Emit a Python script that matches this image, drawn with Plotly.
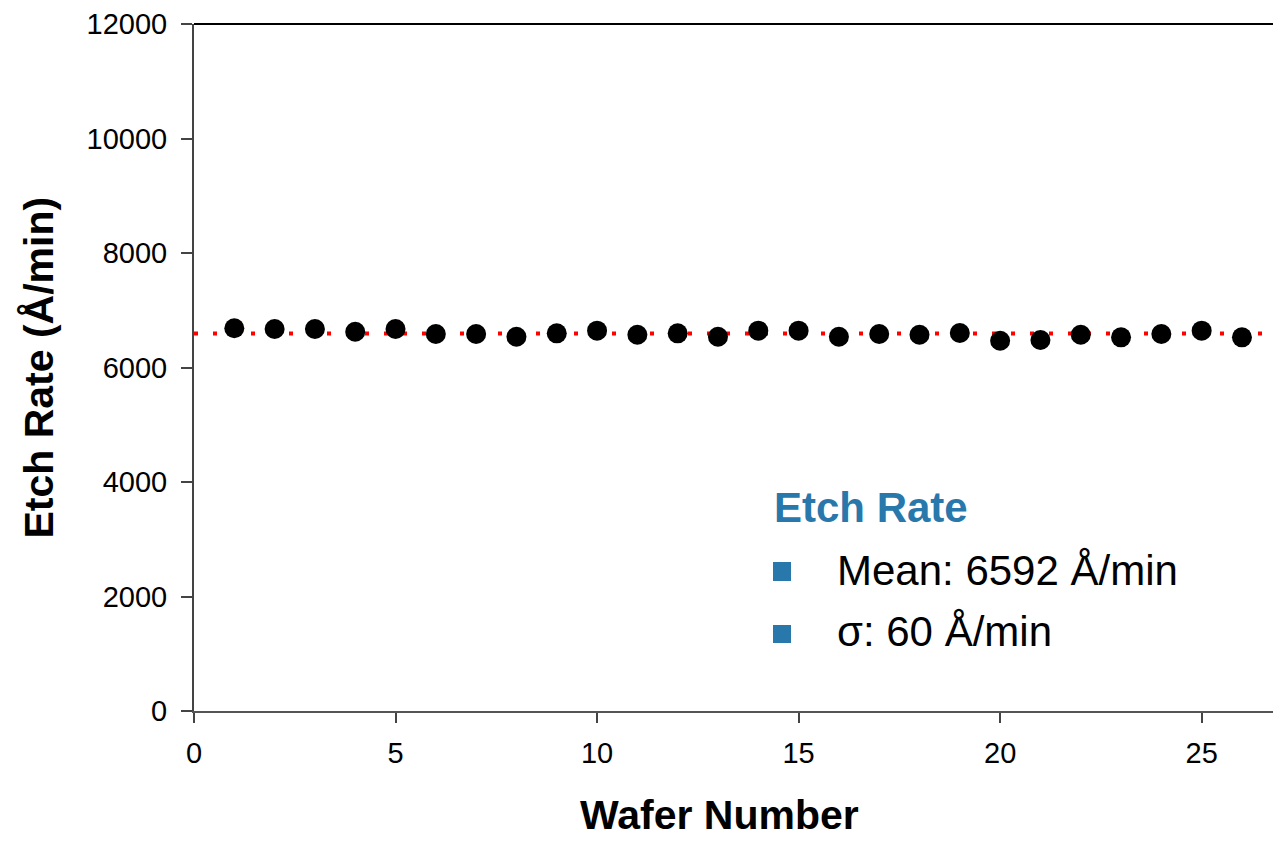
import plotly.graph_objects as go

# Data
wafer_number = list(range(1, 27))
etch_rate = [6685, 6672, 6672, 6625, 6672, 6585, 6585, 6538, 6597, 6643,
             6573, 6597, 6538, 6643, 6643, 6538, 6585, 6573, 6603, 6468,
             6480, 6573, 6527, 6585, 6643, 6527]
mean_rate = 6592
sigma_rate = 60
y_ticks = [0, 2000, 4000, 6000, 8000, 10000, 12000]
y_tick_labels = ["0", "2000", "4000", "6000", "8000", "10000", "12000"]
x_ticks = [0, 5, 10, 15, 20, 25]
x_max = 26.77

FONT = "Liberation Sans, Arial, sans-serif"
BLUE = "#2878AC"

fig = go.Figure()

# Mean line (red dotted)
fig.add_trace(go.Scatter(
    x=[0, x_max], y=[mean_rate, mean_rate], mode="lines",
    line=dict(color="#FF0000", width=4, dash="4px,15px"),
    hoverinfo="skip", showlegend=False, cliponaxis=False))

# Data points
fig.add_trace(go.Scatter(
    x=wafer_number, y=etch_rate, mode="markers",
    marker=dict(color="black", size=20, symbol="circle"),
    showlegend=False))

fig.update_layout(
    width=1273, height=841,
    margin=dict(l=194, r=0, t=24, b=130),
    paper_bgcolor="white", plot_bgcolor="white",
    font=dict(family=FONT, color="black"),
    showlegend=False,
    xaxis=dict(range=[0, x_max], tickvals=x_ticks, ticks="outside", ticklen=10,
               tickwidth=2, tickcolor="#444", showline=True, linecolor="#555",
               linewidth=2, showgrid=False, zeroline=False,
               tickfont=dict(size=29, family=FONT), ticklabelstandoff=5),
    yaxis=dict(range=[0, 12000], tickvals=y_ticks, ticktext=y_tick_labels,
               ticks="outside", ticklen=11,
               tickwidth=2, tickcolor="#444", showline=True, linecolor="#444",
               linewidth=2, showgrid=False, zeroline=False,
               tickfont=dict(size=29, family=FONT), ticklabelstandoff=8),
)

# Top frame line
fig.add_shape(type="line", xref="paper", yref="paper", x0=0, x1=1, y0=1, y1=1,
              line=dict(color="black", width=2))

# Axis titles
fig.add_annotation(text="<b>Wafer Number</b>", xref="paper", yref="paper",
                   x=0.4866, y=-0.151, xanchor="center", yanchor="middle",
                   showarrow=False, font=dict(size=41, family=FONT, color="black"))
fig.add_annotation(text="<b>Etch Rate (Å/min)</b>", xref="paper", yref="paper",
                   x=-0.1445, y=0.5, xanchor="center", yanchor="middle",
                   textangle=-90, showarrow=False,
                   font=dict(size=41, family=FONT, color="black"))

# Stats box
fig.add_annotation(text="<b>Etch Rate</b>", xref="paper", yref="paper",
                   x=0.5357, y=0.2955, xanchor="left", yanchor="middle",
                   showarrow=False, font=dict(size=42, family=FONT, color=BLUE))
fig.add_annotation(text=f"Mean: {mean_rate} Å/min", xref="paper", yref="paper",
                   x=0.5941, y=0.2038, xanchor="left", yanchor="middle",
                   showarrow=False, font=dict(size=42, family=FONT, color="black"))
fig.add_annotation(text=f"σ: {sigma_rate} Å/min", xref="paper", yref="paper",
                   x=0.5941, y=0.115, xanchor="left", yanchor="middle",
                   showarrow=False, font=dict(size=42, family=FONT, color="black"))
for y0, y1 in [(0.1892, 0.2169), (0.099, 0.1252)]:
    fig.add_shape(type="rect", xref="paper", yref="paper",
                  x0=0.5366, x1=0.5533, y0=y0, y1=y1,
                  fillcolor=BLUE, line=dict(width=0))

fig.write_html("out.html")
